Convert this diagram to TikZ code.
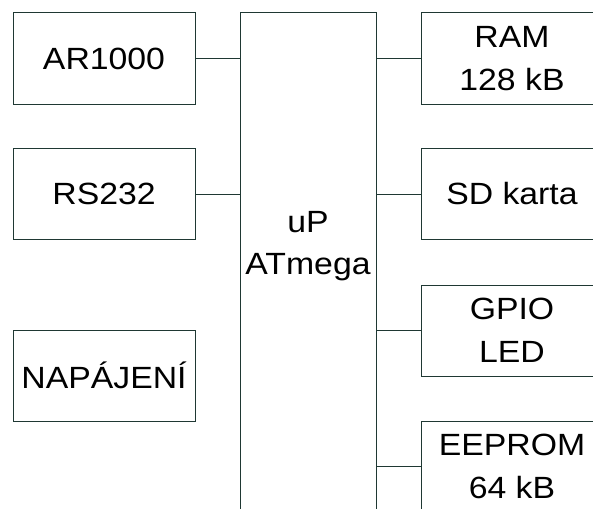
\documentclass[tikz,border=0pt]{standalone}
\usepackage{fontspec}
\setmainfont{Liberation Sans}[FakeStretch=1.1]
\definecolor{BoxLine}{HTML}{1F3833}

\begin{document}
\begin{tikzpicture}[x=1pt, y=-1pt,
    block/.style={draw=BoxLine, line width=1pt, minimum width=182pt, minimum height=91pt,
      inner sep=0pt, align=center, font=\fontsize{30.7}{43}\selectfont},
    link/.style={draw=BoxLine, line width=1pt}]
        \useasboundingbox (0,0) rectangle (593,508);
        \clip (0,0) rectangle (593,508);

        % Procesor
        \node[draw=BoxLine, line width=1pt, minimum width=136pt, minimum height=540pt,
          inner sep=0pt] (cpu) at (308,283) {};
        \node[align=center, inner sep=0pt, font=\fontsize{30.7}{42}\selectfont] (cpulabel) at (308,246) {uP\\ATmega};

        % Levá strana
        \node[block] (ar) at (104,58.5) {AR1000};
        \node[block] (rs) at (104,194) {RS232};
        \node[block] (pwr) at (104,375.5) {NAPÁJENÍ};

        % Pravá strana
        \node[block] (ram) at (512,58.5) {RAM\\128 kB};
        \node[block] (sd) at (512,194) {SD karta};
        \node[block] (gpio) at (512,330.5) {GPIO\\LED};
        \node[block] (eeprom) at (512,466.5) {EEPROM\\64 kB};

        % Spoje
        \draw[link] (ar.east) -- (ar.east -| cpu.west);
        \draw[link] (rs.east) -- (rs.east -| cpu.west);
        \draw[link] (ram.west) -- (ram.west -| cpu.east);
        \draw[link] (sd.west) -- (sd.west -| cpu.east);
        \draw[link] (gpio.west) -- (gpio.west -| cpu.east);
        \draw[link] (eeprom.west) -- (eeprom.west -| cpu.east);
\end{tikzpicture}
\end{document}
